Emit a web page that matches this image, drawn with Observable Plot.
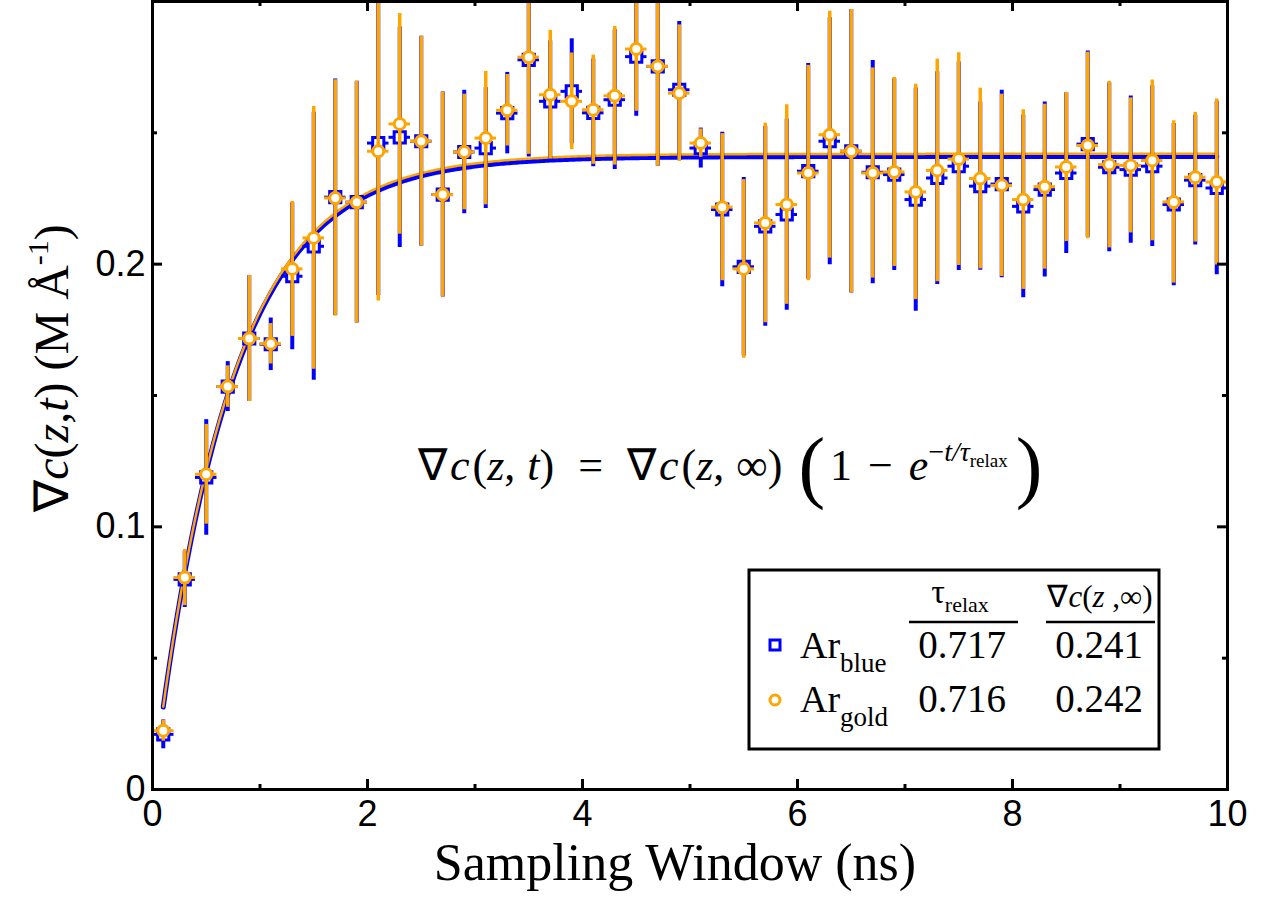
<!DOCTYPE html>
<html><head><meta charset="utf-8">
<script src="https://cdn.jsdelivr.net/npm/d3@7"></script>
<script src="https://cdn.jsdelivr.net/npm/@observablehq/plot@0.6"></script>
<style>body{margin:0;background:#fff} svg{display:block}</style>
</head><body><div id="chart"></div>
<script>
// ---- data ----
const t = [0.1,0.3,0.5,0.7,0.9,1.1,1.3,1.5,1.7,1.9,2.1,2.3,2.5,2.7,2.9,3.1,3.3,3.5,3.7,3.9,
           4.1,4.3,4.5,4.7,4.9,5.1,5.3,5.5,5.7,5.9,6.1,6.3,6.5,6.7,6.9,7.1,7.3,7.5,7.7,7.9,
           8.1,8.3,8.5,8.7,8.9,9.1,9.3,9.5,9.7,9.9];
const goldY = [0.0224,0.0807,0.120,0.1534,0.1717,0.1697,0.1982,0.210,0.2252,0.2236,
               0.243,0.2534,0.2468,0.2265,0.2427,0.248,0.2586,0.2788,0.2645,0.262,
               0.2588,0.2641,0.2819,0.2753,0.2651,0.2461,0.2217,0.1982,0.2157,0.2227,
               0.2347,0.2493,0.243,0.2347,0.2351,0.2275,0.2357,0.240,0.2326,0.230,
               0.2246,0.2295,0.237,0.2452,0.2379,0.2376,0.2395,0.2237,0.2331,0.2313];
const goldErr = [0.004,0.0107,0.019,0.0079,0.024,0.0077,0.0257,0.050,0.045,0.046,
                 0.057,0.042,0.040,0.039,0.022,0.0254,0.0136,0.037,0.0245,0.0184,
                 0.0208,0.0264,0.0237,0.038,0.026,0.0054,0.028,0.034,0.038,0.038,
                 0.041,0.047,0.054,0.040,0.036,0.041,0.0424,0.0405,0.0344,0.0347,
                 0.0342,0.0314,0.0284,0.0355,0.0317,0.0257,0.0306,0.0309,0.0247,0.0316];
const blueY = [0.021,0.080,0.1188,0.1534,0.1717,0.1695,0.1954,0.2068,0.2255,0.2236,
               0.2461,0.2483,0.2468,0.2265,0.2427,0.2442,0.2575,0.2778,0.262,0.2658,
               0.2576,0.2626,0.279,0.2753,0.2664,0.2442,0.2208,0.199,0.2144,0.2189,
               0.2354,0.2468,0.243,0.235,0.2341,0.2246,0.2328,0.2373,0.2297,0.2305,
               0.222,0.2284,0.2347,0.2457,0.2369,0.236,0.2373,0.2227,0.232,0.229];
const blueErr = [0.0055,0.0107,0.022,0.0095,0.024,0.010,0.028,0.051,0.045,0.046,
                 0.058,0.042,0.040,0.039,0.0235,0.023,0.0155,0.037,0.023,0.020,
                 0.0205,0.0266,0.0227,0.038,0.026,0.0076,0.0294,0.034,0.038,0.0364,
                 0.041,0.047,0.054,0.0425,0.0365,0.0425,0.0405,0.0397,0.032,0.0357,
                 0.0348,0.0333,0.0306,0.0355,0.0322,0.028,0.0306,0.0309,0.0247,0.033];
const seriesNames = ["blue", "gold"];
const tauRelax = [0.717, 0.716];
const cInf = [0.241, 0.242];
const binHalf = 0.1;
const xMajor = [0, 2, 4, 6, 8, 10];
const xMinor = [1, 3, 5, 7, 9];
const yMajor = [0, 0.1, 0.2, 0.3];
const yMinor = [0.05, 0.15, 0.25];
const yTickLabels = [0, 0.1, 0.2];

// ---- layout / style ----
const BLUE = "#0000ff", GOLD = "#ffa500";
const W = 1275, H = 900, mL = 152, mR = 48, mT = 1, mB = 111;
const frameW = W - mL - mR, frameH = H - mT - mB;
const SERIF = "'Liberation Serif', 'Times New Roman', serif";
const SANS = "'Liberation Sans', Arial, Helvetica, sans-serif";

const blue = t.map((x, i) => ({t: x, y: blueY[i], e: blueErr[i]}));
const gold = t.map((x, i) => ({t: x, y: goldY[i], e: goldErr[i]}));
const fitT = d3.range(t[0], t[t.length - 1] + 1e-9, 0.02);
const fit = k => fitT.map(x => ({t: x, y: cInf[k] * (1 - Math.exp(-x / tauRelax[k]))}));

const tickStyle = {stroke: "black", strokeWidth: 3};
const plot = Plot.plot({
  width: W, height: H,
  marginLeft: mL, marginRight: mR, marginTop: mT, marginBottom: mB,
  style: {fontFamily: SANS, fontSize: "36px", color: "black", background: "white"},
  x: {domain: [0, 10]},
  y: {domain: [0, 0.3]},
  marks: [
    Plot.line(fit(0), {x: "t", y: "y", stroke: BLUE, strokeWidth: 5, clip: true}),
    Plot.line(fit(1), {x: "t", y: "y", stroke: GOLD, strokeWidth: 2.5, clip: true}),
    Plot.ruleX(blue, {x: "t", y1: d => d.y - d.e, y2: d => d.y + d.e, stroke: BLUE, strokeWidth: 4, clip: true}),
    Plot.ruleY(blue, {y: "y", x1: d => d.t - binHalf, x2: d => d.t + binHalf, stroke: BLUE, strokeWidth: 3, clip: true}),
    Plot.dot(blue, {x: "t", y: "y", symbol: "square", r: 6.3, stroke: BLUE, strokeWidth: 3, fill: "white", clip: true}),
    Plot.ruleX(gold, {x: "t", y1: d => d.y - d.e, y2: d => d.y + d.e, stroke: GOLD, strokeWidth: 3.5, clip: true}),
    Plot.ruleY(gold, {y: "y", x1: d => d.t - binHalf, x2: d => d.t + binHalf, stroke: GOLD, strokeWidth: 3, clip: true}),
    Plot.dot(gold, {x: "t", y: "y", r: 5.5, stroke: GOLD, strokeWidth: 3, fill: "white", clip: true}),
    // inward ticks
    Plot.ruleX(xMajor, {x: d => d, insetTop: frameH - 10, ...tickStyle}),
    Plot.ruleX(xMajor, {x: d => d, insetBottom: frameH - 10, ...tickStyle}),
    Plot.ruleX(xMinor, {x: d => d, insetTop: frameH - 5, ...tickStyle}),
    Plot.ruleX(xMinor, {x: d => d, insetBottom: frameH - 5, ...tickStyle}),
    Plot.ruleY(yMajor, {y: d => d, insetRight: frameW - 10, ...tickStyle}),
    Plot.ruleY(yMajor, {y: d => d, insetLeft: frameW - 10, ...tickStyle}),
    Plot.ruleY(yMinor, {y: d => d, insetRight: frameW - 5, ...tickStyle}),
    Plot.ruleY(yMinor, {y: d => d, insetLeft: frameW - 5, ...tickStyle}),
    Plot.axisX({ticks: xMajor, tickSize: 0, tickPadding: 11, tickFormat: d => String(d), label: null, fontSize: 36}),
    Plot.axisY({ticks: yTickLabels, tickSize: 0, tickPadding: 7, tickFormat: d => String(d), label: null, fontSize: 36}),
    Plot.frame({stroke: "black", strokeWidth: 3})
  ]
});
document.getElementById("chart").appendChild(plot);

const svg = d3.select(plot);
const g = svg.append("g").attr("font-family", SERIF).attr("fill", "black").attr("text-anchor", "start");

// x label
g.append("text").attr("x", 675).attr("y", 880).attr("text-anchor", "middle")
  .attr("font-size", 52).text("Sampling Window (ns)");

// y label
const yl = g.append("text").attr("transform", "translate(68,368) rotate(-90)")
  .attr("text-anchor", "middle").attr("font-size", 48);
yl.append("tspan").text("\u2207");
yl.append("tspan").attr("font-style", "italic").text("c");
yl.append("tspan").text("(");
yl.append("tspan").attr("font-style", "italic").text("z");
yl.append("tspan").text(",");
yl.append("tspan").attr("font-style", "italic").text("t");
yl.append("tspan").text(") (M \u00C5");
yl.append("tspan").attr("font-size", 30).attr("dy", -20).text("-1");
yl.append("tspan").attr("dy", 20).text(")");

// equation
const eq = g.append("text").attr("x", 418).attr("y", 480).attr("font-size", 44);
const sp = (txt, o = {}) => {
  const s = eq.append("tspan").text(txt);
  for (const k in o) s.attr(k, o[k]);
  return s;
};
const it = {"font-style": "italic"};
sp("\u2207"); sp("c", {...it, dx: 3}); sp("(", {dx: 3}); sp("z", it); sp(","); sp("t", {...it, dx: 12});
sp(")"); sp("=", {dx: 24}); sp("\u2207", {dx: 24}); sp("c", {...it, dx: 3}); sp("(", {dx: 3});
sp("z", it); sp(","); sp("\u221E", {dx: 12}); sp(")");
sp("(", {"font-size": 80, dy: 13, dx: 16});
sp("1", {dy: -13, dx: 5});
sp("\u2212", {dx: 16});
sp("e", {...it, dx: 16});
sp("\u2212", {"font-size": 28, dy: -19});
sp("t/\u03C4", {"font-size": 28, "font-style": "italic"});
sp("relax", {"font-size": 19, dy: 6});
sp(")", {"font-size": 80, dy: 26, dx: 8});

// legend box
const L = g.append("g");
L.append("rect").attr("x", 749).attr("y", 570).attr("width", 410).attr("height", 179)
  .attr("fill", "white").attr("stroke", "black").attr("stroke-width", 3);
const h1 = L.append("text").attr("x", 960).attr("y", 603).attr("text-anchor", "middle").attr("font-size", 34);
h1.append("tspan").text("\u03C4");
h1.append("tspan").attr("font-size", 22).attr("dy", 9).text("relax");
const h2 = L.append("text").attr("x", 1100).attr("y", 607).attr("text-anchor", "middle").attr("font-size", 31);
h2.append("tspan").text("\u2207");
h2.append("tspan").attr("font-style", "italic").text("c");
h2.append("tspan").text("(");
h2.append("tspan").attr("font-style", "italic").text("z");
h2.append("tspan").text(" ,\u221E)");
L.append("line").attr("x1", 909).attr("x2", 1018).attr("y1", 622).attr("y2", 622).attr("stroke", "black").attr("stroke-width", 2.5);
L.append("line").attr("x1", 1046).attr("x2", 1155).attr("y1", 622).attr("y2", 622).attr("stroke", "black").attr("stroke-width", 2.5);
const rows = [{y: 658, my: 645, color: BLUE, sym: "square"}, {y: 712, my: 700, color: GOLD, sym: "circle"}];
rows.forEach((r, k) => {
  if (r.sym === "square") {
    L.append("rect").attr("x", 770).attr("y", r.my - 5).attr("width", 10).attr("height", 10)
      .attr("fill", "white").attr("stroke", r.color).attr("stroke-width", 3);
  } else {
    L.append("circle").attr("cx", 775).attr("cy", r.my).attr("r", 5)
      .attr("fill", "white").attr("stroke", r.color).attr("stroke-width", 3);
  }
  const lab = L.append("text").attr("x", 800).attr("y", r.y).attr("font-size", 38);
  lab.append("tspan").text("Ar");
  lab.append("tspan").attr("font-size", 27).attr("dy", 14).text(seriesNames[k]);
  L.append("text").attr("x", 962).attr("y", r.y).attr("text-anchor", "middle").attr("font-size", 39)
    .text(tauRelax[k].toFixed(3));
  L.append("text").attr("x", 1099).attr("y", r.y).attr("text-anchor", "middle").attr("font-size", 39)
    .text(cInf[k].toFixed(3));
});
</script>
</body></html>
